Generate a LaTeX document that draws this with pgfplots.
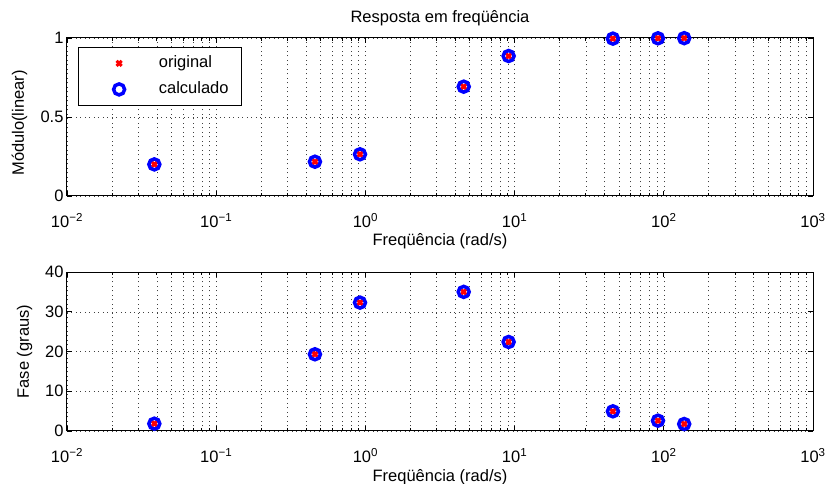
\documentclass[border=0pt]{standalone}
\usepackage{pgfplots}
\pgfplotsset{compat=1.18}
\usepackage{pgfplotstable}
\usepackage{fontspec}
\setmainfont{Liberation Sans}
\newcommand\ff{\fontsize{16.5}{19}\selectfont}
\pgfplotstableread{
w mod fase
0.0385 0.200 1.84
0.459 0.217 19.3
0.92 0.264 32.3
4.56 0.692 35.0
9.12 0.886 22.4
45.6 0.996 4.95
91.4 0.998 2.6
137 0.999 1.76
}\datatab
\pgfplotsset{
  every axis/.append style={
    scale only axis, width=746pt,
    xmin=1e-2, xmax=1e3,
    xtick={1e-2,1e-1,1,1e1,1e2,1e3},
    xticklabels={10\textsuperscript{−2},10\textsuperscript{−1},10\textsuperscript{0},10\textsuperscript{1},10\textsuperscript{2},10\textsuperscript{3}},
    minor xtick={2e-2,3e-2,4e-2,5e-2,6e-2,7e-2,8e-2,9e-2,
                 2e-1,3e-1,4e-1,5e-1,6e-1,7e-1,8e-1,9e-1,
                 2,3,4,5,6,7,8,9,20,30,40,50,60,70,80,90,
                 200,300,400,500,600,700,800,900},
    xmajorgrids, xminorgrids, ymajorgrids,
    grid style={black!75, line width=0.45pt, dash pattern=on 1pt off 3.5pt},
    minor grid style={black!75, line width=0.45pt, dash pattern=on 1pt off 3.5pt},
    tick align=inside, major tick length=5pt, minor tick length=3pt,
    tick style={black, line width=0.7pt},
    axis line style={line width=1pt},
    font=\ff,
    tick label style={font=\ff},
    /pgf/number format/assume math mode=true,
    xticklabel style={anchor=base, yshift=-32pt},
    xlabel={Freqüência (rad/s)},
    xlabel style={at={(axis description cs:0.5,0)}, anchor=base, yshift=-50pt},
  },
}
\begin{document}
\begin{tikzpicture}
\useasboundingbox (-67pt,-53pt) rectangle (760pt,431pt);
\begin{semilogxaxis}[at={(0pt,235pt)}, height=158pt,
  ymin=0, ymax=1, ytick={0,0.5,1}, yticklabels={0,0.5,1},
  ylabel={Módulo(linear)},
  ylabel style={at={(axis description cs:0,0.5)}, anchor=center, yshift=47.5pt, xshift=-6pt},
  title={Resposta em freqüência},
  title style={at={(axis description cs:0.5,1)}, anchor=base, yshift=9pt},
  legend style={at={(axis description cs:0.0147,0.943)}, anchor=north west,
    draw=black, line width=0.8pt, fill=white, inner xsep=0pt, inner ysep=8pt,
    row sep=10pt,
    nodes={inner sep=0pt, text height=12.5pt, text depth=3.5pt, font=\ff}},
  legend cell align=left,
  legend image code/.code={\path (0pt,0pt) (77pt,0pt); \draw[#1] plot coordinates {(39pt,0pt)};},
]
\addplot[only marks, mark=x, red, mark size=3.6pt, line width=3pt] table[x=w, y=mod] {\datatab};
\addplot[only marks, mark=o, blue, mark size=5.5pt, line width=3.5pt] table[x=w, y=mod] {\datatab};
\legend{original\hspace*{13pt}, calculado\hspace*{13pt}}
\end{semilogxaxis}
\begin{semilogxaxis}[at={(0pt,0pt)}, height=159pt,
  ymin=0, ymax=40, ytick={0,10,20,30,40}, yticklabels={0,10,20,30,40},
  ylabel={Fase (graus)},
  ylabel style={at={(axis description cs:0,0.5)}, anchor=center, yshift=42.5pt},
]
\addplot[only marks, mark=x, red, mark size=3.6pt, line width=3pt] table[x=w, y=fase] {\datatab};
\addplot[only marks, mark=o, blue, mark size=5.5pt, line width=3.5pt] table[x=w, y=fase] {\datatab};
\end{semilogxaxis}
\end{tikzpicture}
\end{document}
